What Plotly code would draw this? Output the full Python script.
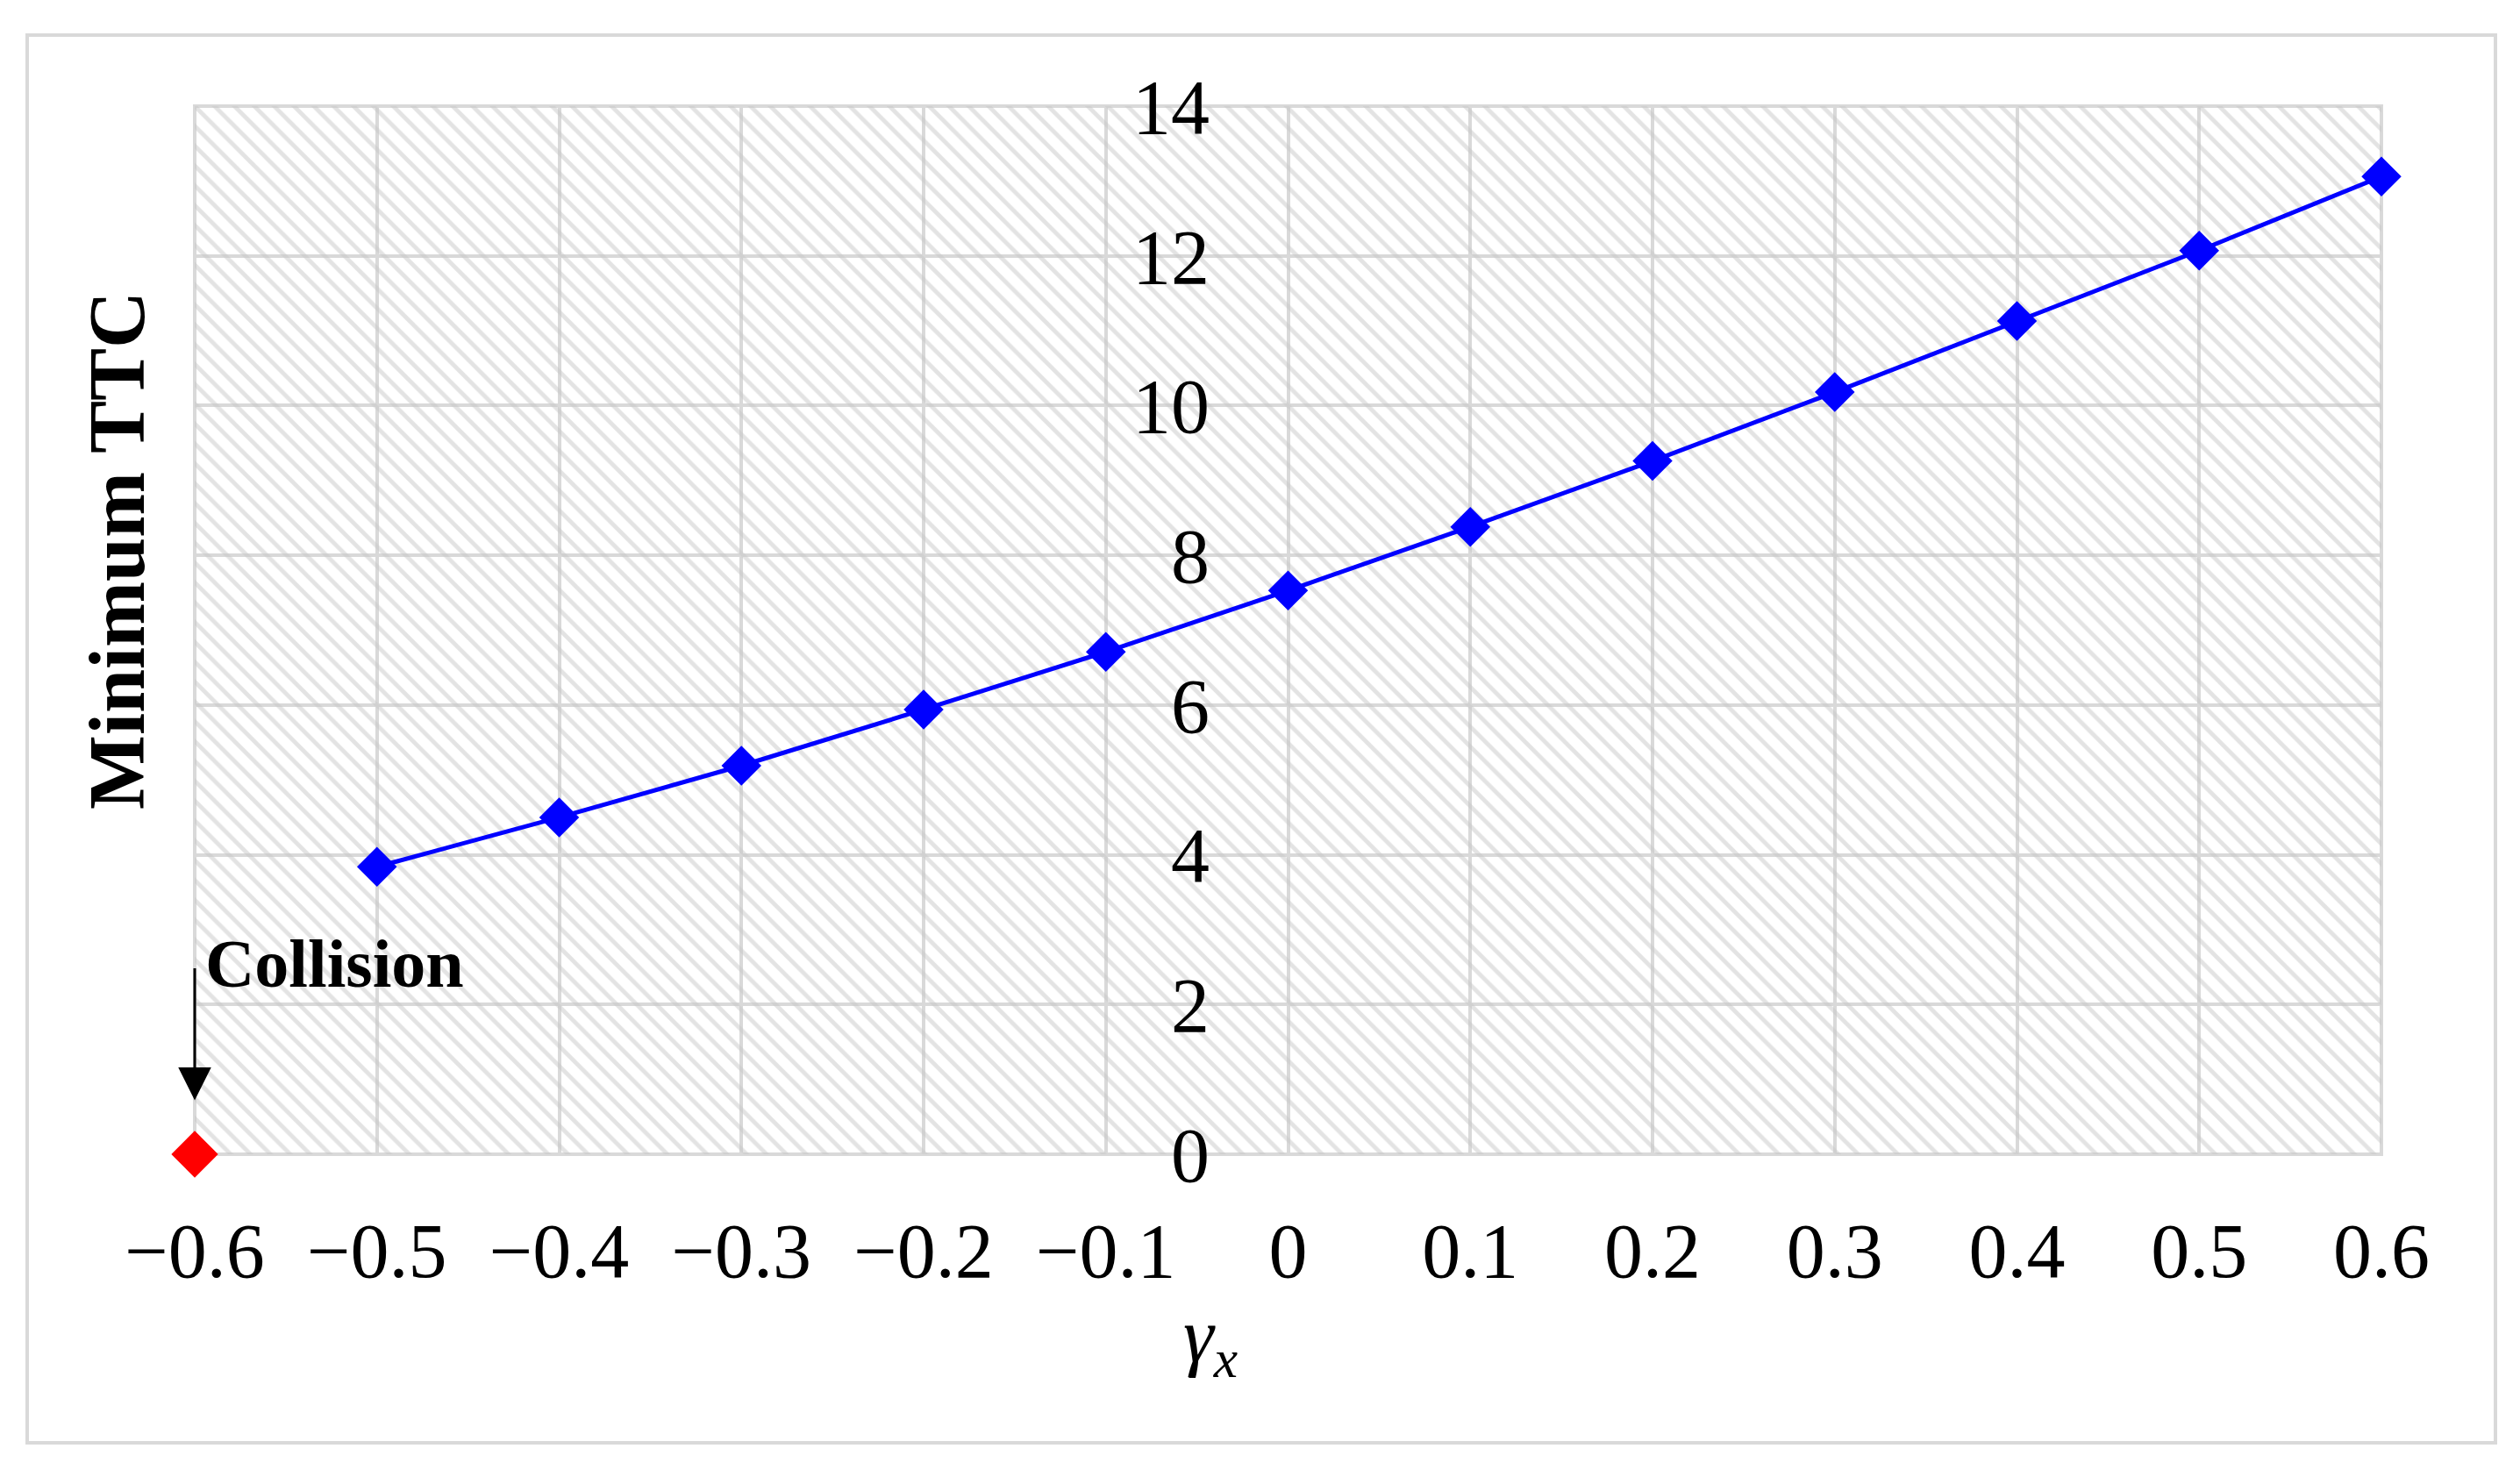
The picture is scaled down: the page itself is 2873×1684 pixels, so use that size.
import plotly.graph_objects as go

# ---- data ----
gamma_x = [-0.5, -0.4, -0.3, -0.2, -0.1, 0.0, 0.1, 0.2, 0.3, 0.4, 0.5, 0.6]
min_ttc = [3.84, 4.50, 5.19, 5.94, 6.71, 7.53, 8.38, 9.26, 10.18, 11.13, 12.07, 13.06]
collision_x = [-0.6]
collision_y = [0.0]

x_tickvals = [-0.6, -0.5, -0.4, -0.3, -0.2, -0.1, 0.0, 0.1, 0.2, 0.3, 0.4, 0.5, 0.6]
x_ticktext = ["\u22120.6", "\u22120.5", "\u22120.4", "\u22120.3", "\u22120.2", "\u22120.1",
              "0", "0.1", "0.2", "0.3", "0.4", "0.5", "0.6"]
y_tickvals = [0, 2, 4, 6, 8, 10, 12, 14]

X_RANGE = [-0.6, 0.6]
Y_RANGE = [0, 14]

FONT = "Liberation Serif, Times New Roman, serif"
GRID = "#d9d9d9"

W, H = 2873, 1684
L, R, T, B = 222, 158, 121, 368
PW, PH = W - L - R, H - T - B


def px_x(px):
    return (px - L) / PW


def px_y(py):
    return (H - B - py) / PH


fig = go.Figure()

# hatched plot background
fig.add_trace(go.Scatter(
    x=[X_RANGE[0], X_RANGE[1], X_RANGE[1], X_RANGE[0], X_RANGE[0]],
    y=[Y_RANGE[0], Y_RANGE[0], Y_RANGE[1], Y_RANGE[1], Y_RANGE[0]],
    mode="lines", line=dict(width=0, color="rgba(0,0,0,0)"),
    fill="toself", fillcolor="rgba(0,0,0,0)",
    fillpattern=dict(shape="\\", fgcolor="#c8c8c8", bgcolor="rgba(0,0,0,0)",
                     size=16, solidity=0.3),
    hoverinfo="skip", showlegend=False,
))

fig.add_trace(go.Scatter(
    x=gamma_x, y=min_ttc, mode="lines+markers",
    line=dict(color="#0000FF", width=5),
    marker=dict(symbol="diamond", size=35, color="#0000FF"),
    showlegend=False, cliponaxis=False,
))

fig.add_trace(go.Scatter(
    x=collision_x, y=collision_y, mode="markers",
    marker=dict(symbol="diamond", size=41, color="#FF0000"),
    showlegend=False, cliponaxis=False,
))

fig.update_layout(
    width=W, height=H,
    margin=dict(l=L, r=R, t=T, b=B, pad=0),
    paper_bgcolor="white", plot_bgcolor="white",
    font=dict(family=FONT, color="black", size=86),
    xaxis=dict(
        range=X_RANGE, tickvals=x_tickvals, ticktext=x_ticktext,
        showgrid=True, gridcolor=GRID, gridwidth=4, zeroline=False,
        ticks="outside", ticklen=33, tickcolor="rgba(0,0,0,0)",
        tickfont=dict(family=FONT, size=88, color="black"),
        showline=False, anchor="free", position=0,
    ),
    yaxis=dict(
        range=Y_RANGE, tickvals=y_tickvals,
        showgrid=True, gridcolor=GRID, gridwidth=4, zeroline=False,
        ticks="outside", ticklen=72, tickcolor="rgba(0,0,0,0)",
        tickfont=dict(family=FONT, size=88, color="black"),
        showline=False, anchor="free", position=0.5,
    ),
    shapes=[
        dict(type="rect", xref="paper", yref="paper", x0=0, x1=1, y0=0, y1=1,
             line=dict(color=GRID, width=4), layer="below"),
        dict(type="rect", xref="paper", yref="paper",
             x0=px_x(31), x1=px_x(2845), y0=px_y(1645), y1=px_y(40),
             line=dict(color=GRID, width=4)),
    ],
    annotations=[
        dict(text="<b>Minimum TTC</b>", xref="paper", yref="paper",
             x=px_x(133), y=px_y(628), textangle=-90, showarrow=False,
             font=dict(family=FONT, size=90, color="black"),
             xanchor="center", yanchor="middle"),
        dict(text="<i>\u03b3</i><sub><i>x</i></sub>", xref="paper", yref="paper",
             x=px_x(1380), y=px_y(1528), showarrow=False,
             font=dict(family=FONT, size=88, color="black"),
             xanchor="center", yanchor="middle"),
        dict(text="<b>Collision</b>", xref="x", yref="y",
             x=collision_x[0], y=2.55, xshift=10, showarrow=False,
             font=dict(family=FONT, size=78, color="black"),
             xanchor="left", yanchor="middle"),
        dict(text="", xref="x", yref="y", axref="x", ayref="y",
             x=collision_x[0], y=0.72, ax=collision_x[0], ay=2.5,
             showarrow=True, arrowhead=2, arrowsize=2.5, arrowwidth=3,
             arrowcolor="black", standoff=0),
    ],
)

fig.write_html("out.html", config={"displayModeBar": False},
               post_script="document.body.style.margin='0';")
